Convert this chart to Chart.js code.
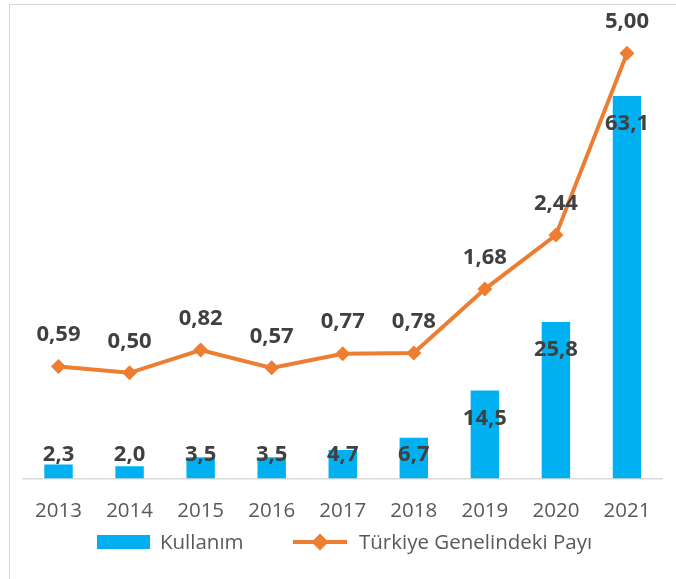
<!DOCTYPE html>
<html>
<head>
<meta charset="utf-8">
<script src="https://cdn.jsdelivr.net/npm/chart.js@4"></script>
<style>
html,body{margin:0;padding:0;background:#fff;overflow:hidden;}
#wrap{position:relative;width:676px;height:579px;}
#frame{position:absolute;left:9px;top:4px;width:700px;height:600px;border-left:1.5px solid #d9d9d9;border-top:1.5px solid #d9d9d9;}
#chart{position:absolute;left:0;top:0;}
.leg{position:absolute;font-family:"Open Sans",sans-serif;font-size:20.5px;color:#595959;line-height:24px;top:529px;white-space:nowrap;}
.box{position:absolute;left:97px;top:535px;width:53px;height:14px;background:#00B0F0;}
.ln{position:absolute;left:293px;top:540px;width:54px;height:4px;background:#ED7D31;}
.dia{position:absolute;left:314px;top:536px;width:12px;height:12px;background:#ED7D31;transform:rotate(45deg);}
</style>
</head>
<body>
<div id="wrap">
<div id="frame"></div>
<canvas id="chart" width="676" height="579"></canvas>
<div class="box"></div>
<div class="leg" style="left:160px;">Kullanım</div>
<div class="ln"></div>
<div class="dia"></div>
<div class="leg" style="left:359px;">Türkiye Genelindeki Payı</div>
</div>
<script>
const years=["2013","2014","2015","2016","2017","2018","2019","2020","2021"];
const kullanim=[2.3,2.0,3.5,3.5,4.7,6.7,14.5,25.8,63.1];
const pay=[0.59,0.50,0.82,0.57,0.77,0.78,1.68,2.44,5.00];

function fmt(v,d){
    return v.toFixed(d).replace(".",",");
}

const valueLabels={
    id:"valueLabels",
    afterDatasetsDraw(chart){
        const ctx=chart.ctx;
        ctx.save();
        ctx.fillStyle="#404040";
        ctx.font="bold 22px 'Open Sans'";
        ctx.textAlign="center";
        ctx.textBaseline="middle";
        const base=chart.scales.yBar.getPixelForValue(0);
        chart.getDatasetMeta(0).data.forEach((bar,i)=>{
            const y=Math.min(bar.y+28,base-24);
            ctx.fillText(fmt(kullanim[i],1),bar.x,y);
        });
        chart.getDatasetMeta(1).data.forEach((pt,i)=>{
            ctx.fillText(fmt(pay[i],2),pt.x,pt.y-31.5);
        });
        ctx.restore();
    }
};

new Chart(document.getElementById("chart"),{
    type:"bar",
    data:{
        labels:years,
        datasets:[{
            type:"bar",
            label:"Kullanım",
            data:kullanim,
            yAxisID:"yBar",
            backgroundColor:"#00B0F0",
            borderWidth:0,
            barPercentage:0.4,
            categoryPercentage:1,
            order:2
        },{
            type:"line",
            label:"Türkiye Genelindeki Payı",
            data:pay,
            yAxisID:"yLine",
            borderColor:"#ED7D31",
            backgroundColor:"#ED7D31",
            borderWidth:4,
            tension:0,
            pointStyle:"rectRot",
            pointRadius:7.5,
            pointBorderWidth:0,
            pointBackgroundColor:"#ED7D31",
            order:1
        }]
    },
    options:{
        responsive:false,
        animation:false,
        devicePixelRatio:1,
        layout:{
            padding:{left:23,right:13.5,top:20,bottom:36}
        },
        plugins:{
            legend:{display:false},
            tooltip:{enabled:false}
        },
        scales:{
            x:{
                grid:{display:false,drawTicks:false},
                border:{display:true,color:"#d9d9d9",width:1.5},
                ticks:{
                    color:"#595959",
                    padding:20,
                    font:{family:"Open Sans",size:20.5}
                }
            },
            yBar:{
                display:false,
                min:0,
                max:75.65
            },
            yLine:{
                display:false,
                min:-0.987,
                max:5.47
            }
        }
    },
    plugins:[valueLabels]
});
</script>
</body>
</html>
